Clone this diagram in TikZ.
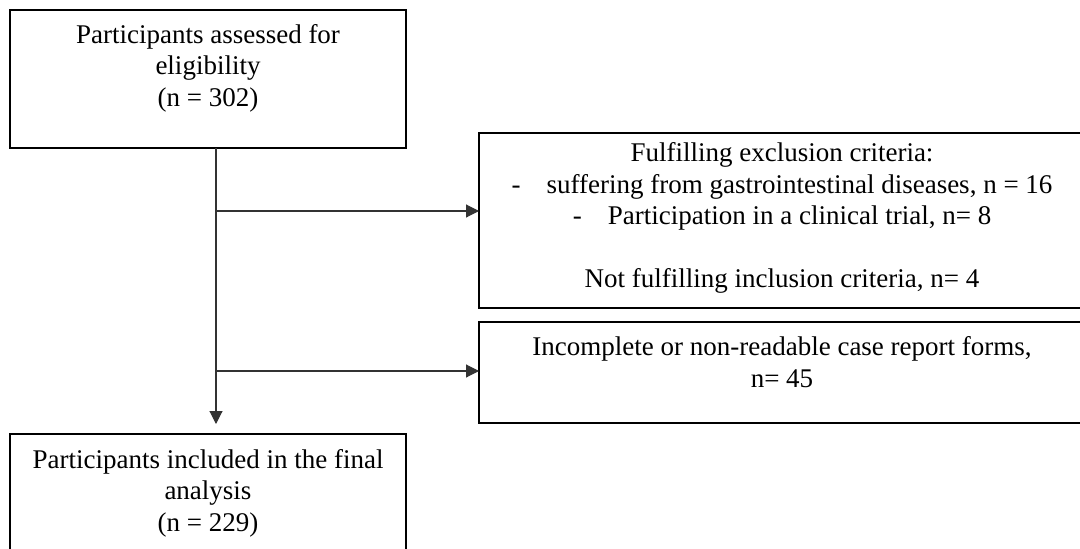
\documentclass[tikz,border=0pt]{standalone}
\usepackage{fontspec}
\setmainfont{Liberation Serif}
\usetikzlibrary{arrows.meta}
\begin{document}
\begin{tikzpicture}[x=1pt,y=-1pt,
  box/.style={draw, line width=1.8pt, anchor=north west, inner sep=0pt, outer sep=0pt},
  txt/.style={align=center, font=\fontsize{27}{31.5}\selectfont, inner sep=0pt},
  conn/.style={line width=1.1pt, draw=black!80},
  tip/.style={-{Triangle[length=13pt,width=13pt]}}]
\useasboundingbox (0,0) rectangle (1080,549);
\clip (0,0) rectangle (1080,549);
\fill[white] (0,0) rectangle (1080,549);
% boxes
\node[box, minimum width=396pt, minimum height=138pt] (top) at (10,10) {};
\node[box, minimum width=660pt, minimum height=175pt] (box1) at (479,133) {};
\node[box, minimum width=660pt, minimum height=101pt] (box2) at (479,322) {};
\node[box, minimum width=396pt, minimum height=200pt] (bot) at (10,434) {};
% texts
\node[txt] (toptext) at (208,68) {Participants assessed for\\eligibility\\(n = 302)};
\node[txt] (box1text) at (782,218) {Fulfilling exclusion criteria:\\
  \makebox[35pt][l]{-}suffering from gastrointestinal diseases, n = 16\\
  \makebox[35pt][l]{-}Participation in a clinical trial, n= 8\\[31pt]
  Not fulfilling inclusion criteria, n= 4};
\node[txt] (box2text) at (782,362) {Incomplete or non-readable case report forms,\\n= 45};
\node[txt] (bottext) at (208,493) {Participants included in the final\\analysis\\(n = 229)};
% connectors
\coordinate (vx) at (216,0);
\coordinate (b1) at (216,211);
\coordinate (b2) at (216,371);
\draw[conn,tip] (top.south -| vx) -- ([yshift=10pt]bot.north -| vx);
\draw[conn,tip] (b1) -- (b1 -| box1.west);
\draw[conn,tip] (b2) -- (b2 -| box2.west);
\end{tikzpicture}
\end{document}
